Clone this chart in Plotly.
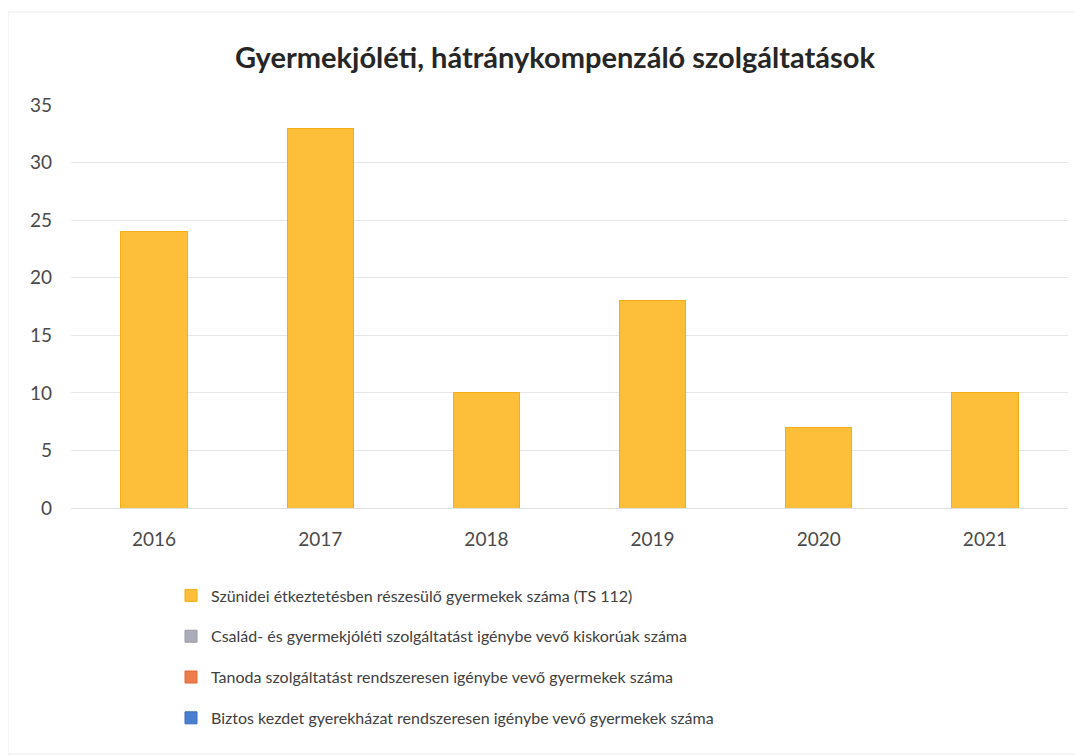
import plotly.graph_objects as go

years = ["2016", "2017", "2018", "2019", "2020", "2021"]
szunidei = [24, 33, 10, 18, 7, 10]
csalad = [None, None, None, None, None, None]
tanoda = [None, None, None, None, None, None]
biztos = [None, None, None, None, None, None]

series_names = [
    "Szünidei étkeztetésben részesülő gyermekek száma (TS 112)",
    "Család- és gyermekjóléti szolgáltatást igénybe vevő kiskorúak száma",
    "Tanoda szolgáltatást rendszeresen igénybe vevő gyermekek száma",
    "Biztos kezdet gyerekházat rendszeresen igénybe vevő gyermekek száma",
]
series_values = [szunidei, csalad, tanoda, biztos]
colors = ["#FDBE3A", "#A9ABB8", "#ED7D4A", "#4A7FD0"]
edges = ["#F2AE14", "#9A9CA8", "#E06A35", "#3A6BC0"]

FONT = "Lato"

L, R, T, B = 63, 23, 97, 256
W, H = 1083, 756
PW = W - L - R
PH = H - T - B

fig = go.Figure()
for i, (name, vals) in enumerate(zip(series_names, series_values)):
    fig.add_trace(go.Bar(
        x=years, y=vals, name=name,
        marker=dict(color=colors[i], line=dict(color=edges[i], width=1)),
        legendgroup=f"g{i}",
    ))

fig.update_layout(
    width=W, height=H,
    barmode="stack",
    bargap=0.6,
    paper_bgcolor="white",
    plot_bgcolor="white",
    margin=dict(l=L, r=R, t=T, b=B),
    font=dict(family=FONT, color="#404040", size=16),
    title=dict(
        text="<b>Gyermekjóléti, hátránykompenzáló szolgáltatások</b>",
        x=547 / W, xanchor="center", xref="container",
        y=1 - 50 / H, yref="container", yanchor="middle",
        font=dict(family=FONT, size=29, color="#262626"),
    ),
    legend=dict(
        orientation="v",
        x=(163 - L) / PW, xanchor="left",
        y=-0.175, yanchor="top",
        font=dict(family=FONT, size=16, color="#404040"),
        tracegroupgap=17,
        traceorder="grouped",
        itemwidth=30,
    ),
    shapes=[dict(
        type="rect", xref="paper", yref="paper",
        x0=(0 - L) / PW, x1=(1074 - L) / PW,
        y0=(H - B - 746) / PH, y1=(H - B - 4) / PH,
        line=dict(color="#EBEBEB", width=1), layer="below",
    )],
)

fig.update_xaxes(
    showgrid=False, showline=False, zeroline=False,
    ticks="", ticklabelstandoff=18,
    tickfont=dict(family=FONT, size=19, color="#4A4A4A"),
)
fig.update_yaxes(
    range=[0, 35], dtick=5,
    showgrid=True, gridcolor="#E6E6E6", gridwidth=1,
    zeroline=True, zerolinecolor="#E0E0E0", zerolinewidth=1,
    showline=False, ticks="", ticklabelstandoff=18,
    tickfont=dict(family=FONT, size=19, color="#4A4A4A"),
)

fig.write_html("out.html")
